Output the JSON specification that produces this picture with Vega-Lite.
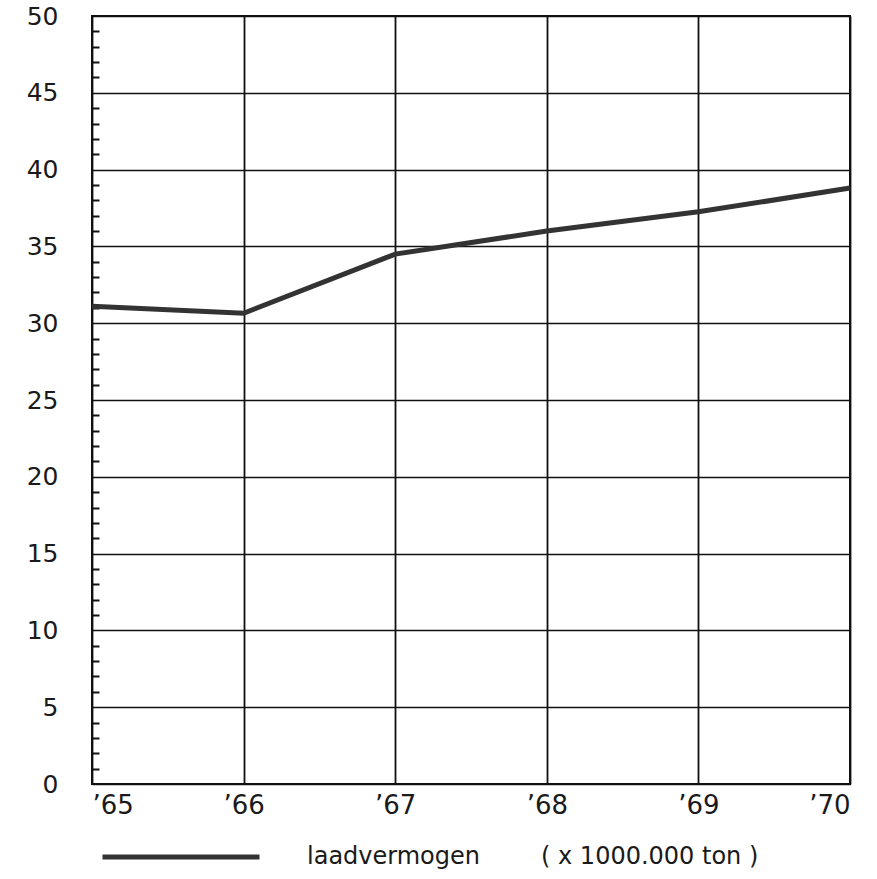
{
  "$schema": "https://vega.github.io/schema/vega-lite/v6.json",
  "width": 758,
  "height": 768,
  "autosize": "none",
  "padding": {"left": 92, "top": 16, "right": 27, "bottom": 95},
  "background": "#ffffff",
  "config": {
    "view": {"stroke": "#111111", "strokeWidth": 2},
    "font": "DejaVu Sans"
  },
  "data": {
    "values": [
      {"year": 1965, "value": 31.1, "series": "laadvermogen\u00a0\u00a0\u00a0\u00a0\u00a0\u00a0\u00a0\u00a0( x 1000.000 ton )"},
      {"year": 1966, "value": 30.65, "series": "laadvermogen\u00a0\u00a0\u00a0\u00a0\u00a0\u00a0\u00a0\u00a0( x 1000.000 ton )"},
      {"year": 1967, "value": 34.5, "series": "laadvermogen\u00a0\u00a0\u00a0\u00a0\u00a0\u00a0\u00a0\u00a0( x 1000.000 ton )"},
      {"year": 1968, "value": 36.0, "series": "laadvermogen\u00a0\u00a0\u00a0\u00a0\u00a0\u00a0\u00a0\u00a0( x 1000.000 ton )"},
      {"year": 1969, "value": 37.25, "series": "laadvermogen\u00a0\u00a0\u00a0\u00a0\u00a0\u00a0\u00a0\u00a0( x 1000.000 ton )"},
      {"year": 1970, "value": 38.8, "series": "laadvermogen\u00a0\u00a0\u00a0\u00a0\u00a0\u00a0\u00a0\u00a0( x 1000.000 ton )"}
    ]
  },
  "resolve": {"axis": {"y": "independent"}},
  "layer": [
    {
      "mark": {"type": "line", "strokeWidth": 5, "color": "#333333", "strokeCap": "butt", "opacity": 0},
      "encoding": {
        "x": {
          "field": "year",
          "type": "quantitative",
          "scale": {"domain": [1965, 1970], "nice": false, "zero": false},
          "axis": {
            "title": null,
            "values": [1965, 1966, 1967, 1968, 1969, 1970],
            "labelExpr": "'\u2019' + slice(toString(datum.value), 2)",
            "labelFontSize": 26,
            "labelColor": "#1a1a1a",
            "labelPadding": 8,
            "labelFlush": true,
            "ticks": false,
            "domain": false,
            "grid": true,
            "gridColor": "#111111",
            "gridWidth": 1.8,
            "gridOpacity": 1
          }
        },
        "y": {
          "field": "value",
          "type": "quantitative",
          "scale": {"domain": [0, 50], "nice": false},
          "axis": {
            "title": null,
            "orient": "left",
            "values": [0, 5, 10, 15, 20, 25, 30, 35, 40, 45, 50],
            "labelFontSize": 25,
            "labelColor": "#1a1a1a",
            "labelPadding": 34,
            "ticks": false,
            "domain": false,
            "grid": true,
            "gridColor": "#111111",
            "gridWidth": 1.3,
            "gridOpacity": 1
          }
        }
      }
    },
    {
      "mark": {"type": "line", "strokeWidth": 5, "color": "#333333", "strokeCap": "butt"},
      "encoding": {
        "x": {"field": "year", "type": "quantitative"},
        "y": {
          "field": "value",
          "type": "quantitative",
          "axis": {
            "title": null,
            "orient": "left",
            "values": [1, 2, 3, 4, 6, 7, 8, 9, 11, 12, 13, 14, 16, 17, 18, 19, 21, 22, 23, 24, 26, 27, 28, 29, 31, 32, 33, 34, 36, 37, 38, 39, 41, 42, 43, 44, 46, 47, 48, 49],
            "labels": false,
            "ticks": true,
            "tickSize": -7,
            "tickWidth": 2,
            "tickColor": "#111111",
            "domain": false,
            "grid": false,
            "offset": 0
          }
        },
        "color": {
          "field": "series",
          "type": "nominal",
          "scale": {"range": ["#333333"]},
          "legend": {
            "title": null,
            "orient": "none",
            "legendX": 8,
            "legendY": 760,
            "symbolType": "stroke",
            "symbolSize": 24649,
            "symbolStrokeWidth": 5,
            "labelFontSize": 24,
            "labelLimit": 700,
            "labelColor": "#1a1a1a",
            "labelOffset": 45
          }
        }
      }
    }
  ]
}
